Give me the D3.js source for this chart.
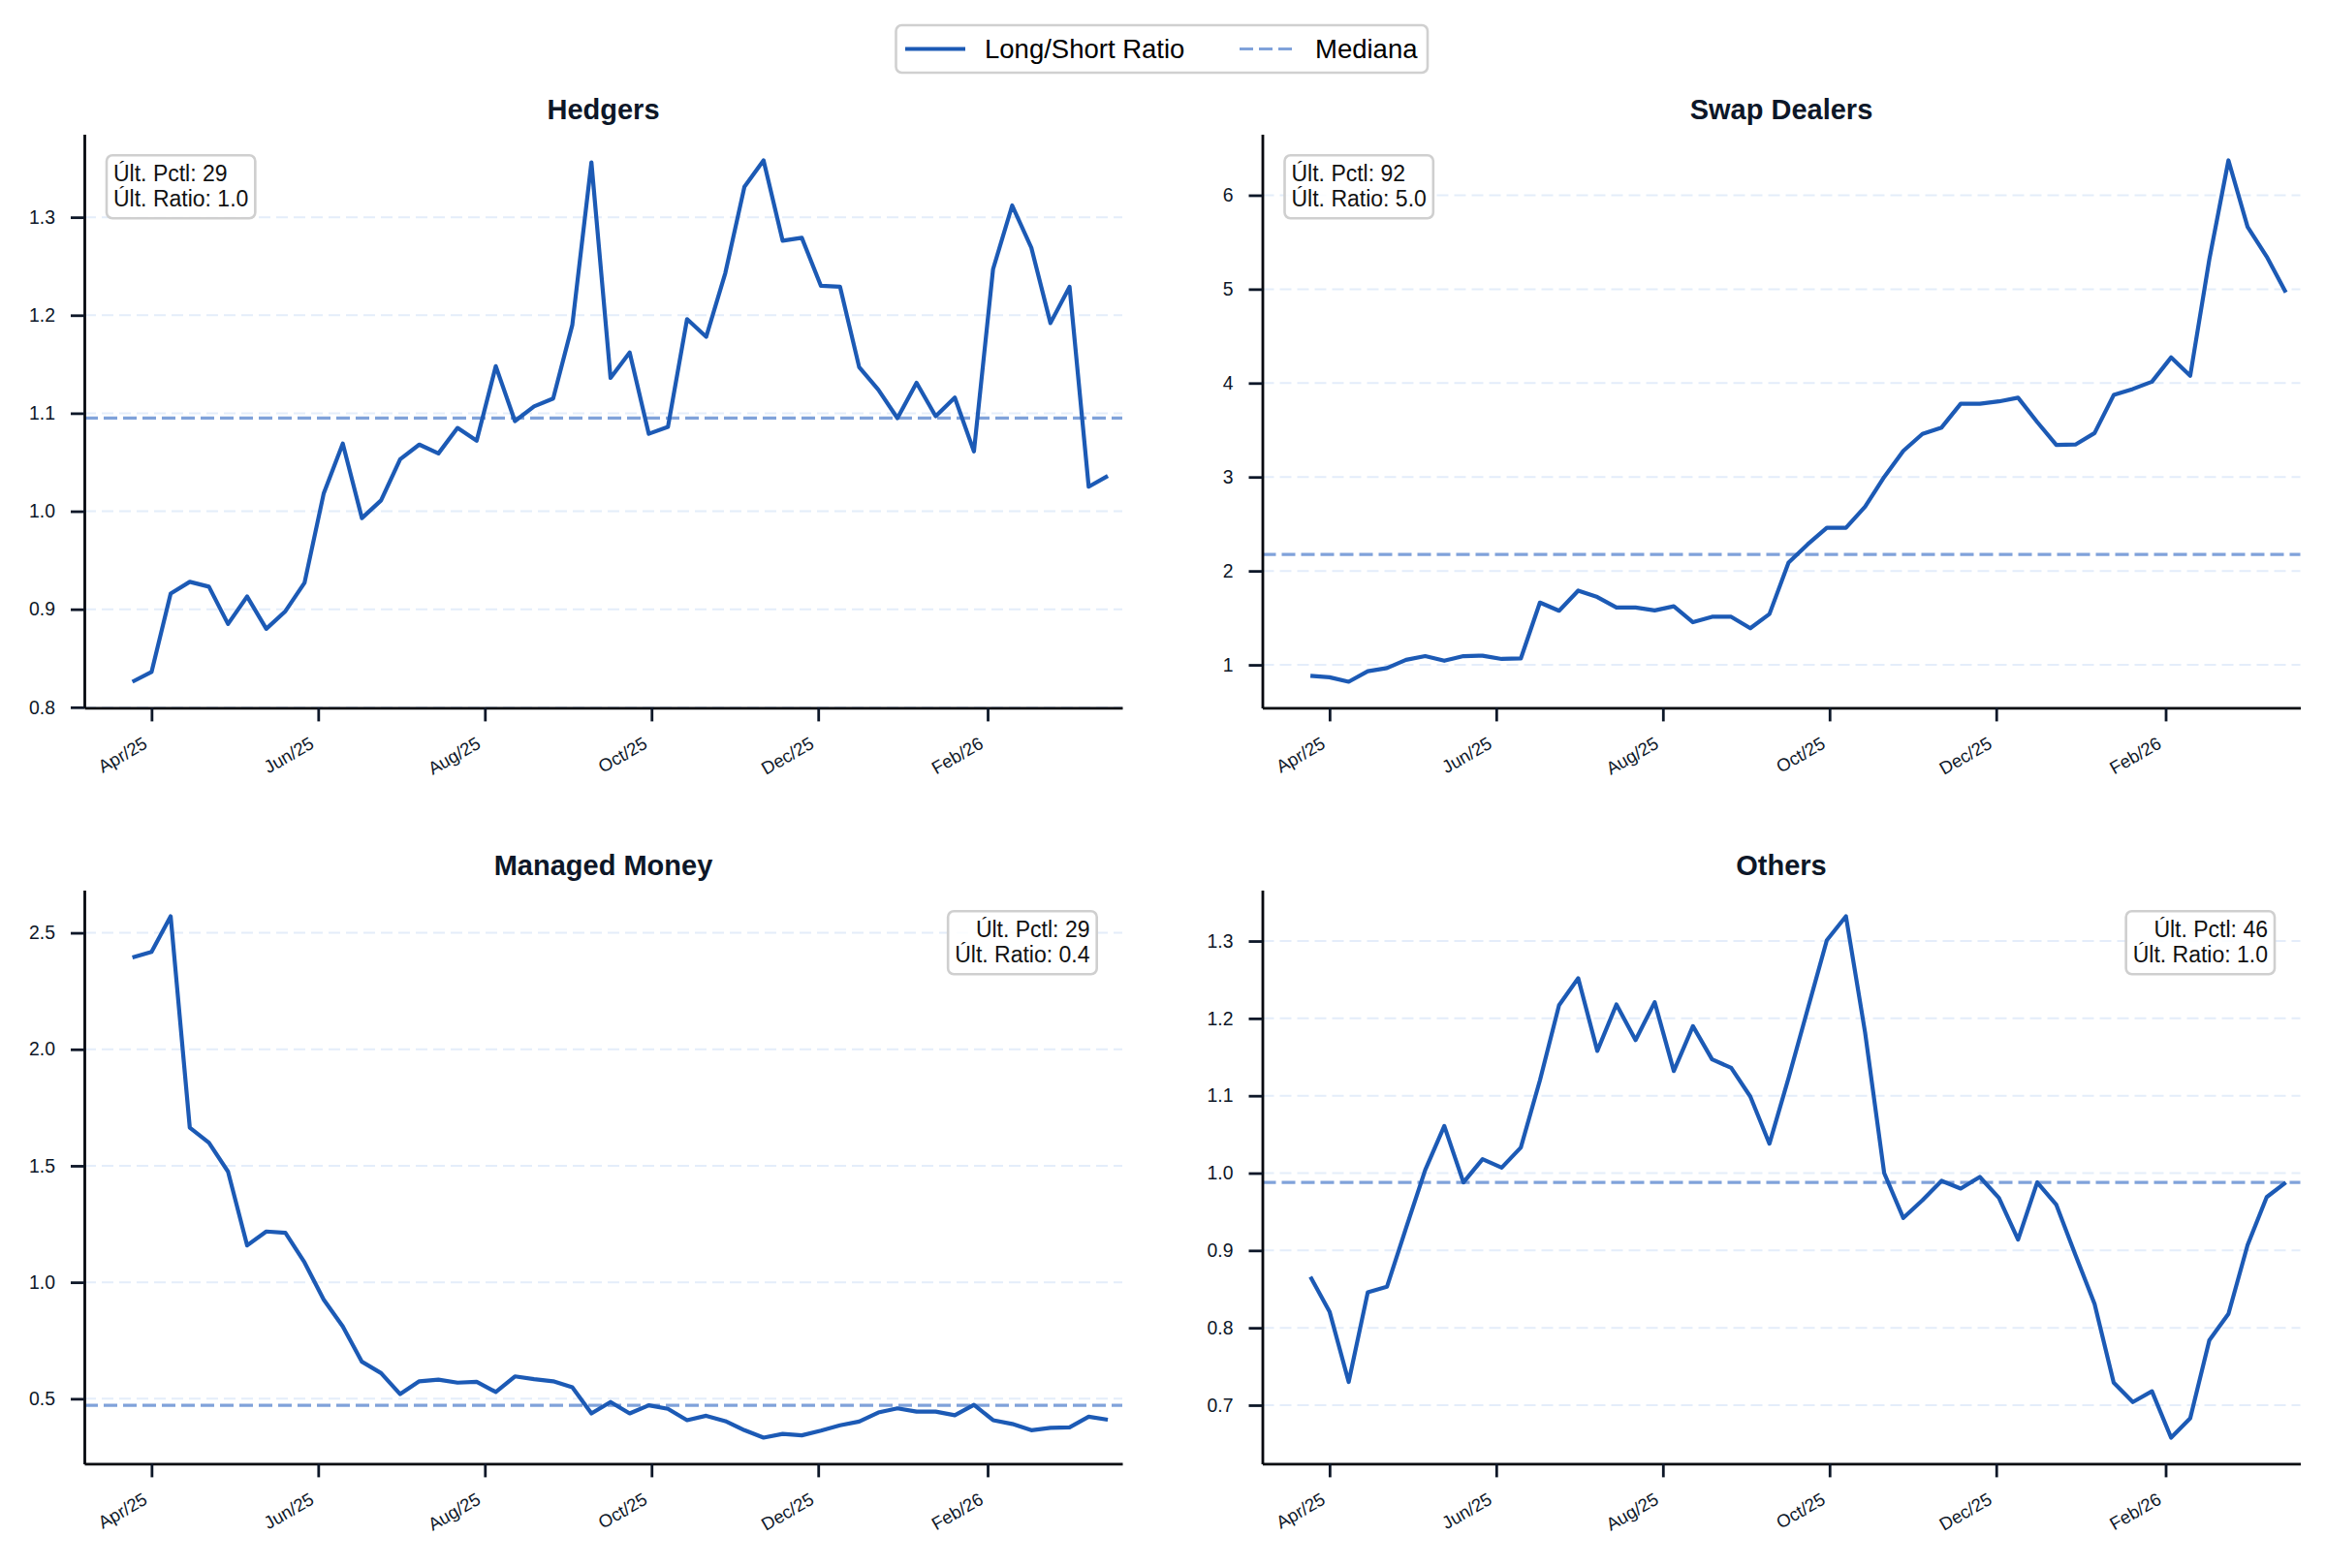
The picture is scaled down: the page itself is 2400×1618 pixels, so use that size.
<!DOCTYPE html>
<meta charset="utf-8">
<head>
<style>
    body { margin: 0; background: #ffffff; }
    svg text { font-family: 'Liberation Sans', Arial, Helvetica, sans-serif; }
</style>
</head>
<body>
<div id="chart"></div>

<script src="https://d3js.org/d3.v7.min.js"></script>
<script>
    // weekly report dates (Tuesdays)
    const dates = [
        '2025-03-25', '2025-04-01', '2025-04-08', '2025-04-15', '2025-04-22', '2025-04-29',
        '2025-05-06', '2025-05-13', '2025-05-20', '2025-05-27', '2025-06-03', '2025-06-10',
        '2025-06-17', '2025-06-24', '2025-07-01', '2025-07-08', '2025-07-15', '2025-07-22',
        '2025-07-29', '2025-08-05', '2025-08-12', '2025-08-19', '2025-08-26', '2025-09-02',
        '2025-09-09', '2025-09-16', '2025-09-23', '2025-09-30', '2025-10-07', '2025-10-14',
        '2025-10-21', '2025-10-28', '2025-11-04', '2025-11-11', '2025-11-18', '2025-11-25',
        '2025-12-02', '2025-12-09', '2025-12-16', '2025-12-23', '2025-12-30', '2026-01-06',
        '2026-01-13', '2026-01-20', '2026-01-27', '2026-02-03', '2026-02-10', '2026-02-17',
        '2026-02-24', '2026-03-03', '2026-03-10', '2026-03-17'
    ];

    // long/short ratio per group
    const hedgers = [
        0.826, 0.836, 0.916, 0.928, 0.923, 0.885, 0.913, 0.880, 0.898, 0.927,
        1.018, 1.069, 0.993, 1.011, 1.053, 1.068, 1.059, 1.085, 1.072, 1.148,
        1.092, 1.107, 1.115, 1.190, 1.356, 1.136, 1.162, 1.079, 1.086, 1.196,
        1.178, 1.243, 1.331, 1.358, 1.276, 1.279, 1.230, 1.229, 1.147, 1.124,
        1.095, 1.131, 1.097, 1.116, 1.061, 1.247, 1.312, 1.269, 1.192, 1.229,
        1.025, 1.036
    ];
    const swapDealers = [
        0.883, 0.868, 0.820, 0.932, 0.966, 1.054, 1.093, 1.044, 1.093, 1.098,
        1.063, 1.068, 1.663, 1.576, 1.790, 1.722, 1.610, 1.610, 1.580, 1.624,
        1.454, 1.512, 1.512, 1.390, 1.541, 2.088, 2.283, 2.459, 2.459, 2.683,
        3.000, 3.278, 3.459, 3.527, 3.780, 3.780, 3.805, 3.844, 3.585, 3.341,
        3.346, 3.468, 3.873, 3.937, 4.015, 4.273, 4.078, 5.317, 6.371, 5.663,
        5.346, 4.966
    ];
    const managedMoney = [
        2.394, 2.418, 2.571, 1.664, 1.599, 1.475, 1.158, 1.218, 1.212, 1.085,
        0.926, 0.810, 0.659, 0.610, 0.520, 0.575, 0.582, 0.569, 0.573, 0.529,
        0.596, 0.584, 0.575, 0.549, 0.437, 0.486, 0.437, 0.472, 0.457, 0.408,
        0.427, 0.404, 0.365, 0.333, 0.349, 0.343, 0.363, 0.386, 0.402, 0.441,
        0.459, 0.445, 0.445, 0.429, 0.474, 0.408, 0.392, 0.365, 0.375, 0.377,
        0.423, 0.410
    ];
    const others = [
        0.866, 0.821, 0.730, 0.846, 0.853, 0.929, 1.004, 1.061, 0.988, 1.018,
        1.007, 1.033, 1.120, 1.217, 1.252, 1.158, 1.218, 1.172, 1.221, 1.132,
        1.190, 1.147, 1.136, 1.099, 1.038, 1.123, 1.212, 1.301, 1.332, 1.182,
        1.000, 0.942, 0.965, 0.990, 0.980, 0.995, 0.968, 0.914, 0.988, 0.959,
        0.894, 0.831, 0.729, 0.704, 0.718, 0.658, 0.683, 0.784, 0.818, 0.907,
        0.969, 0.988
    ];

    const panelTitles = ['Hedgers', 'Swap Dealers', 'Managed Money', 'Others'];
    const medians = [1.095, 2.176, 0.472, 0.988];
    const lastPctl = [29, 92, 29, 46];
    const lastRatio = [1.0, 5.0, 0.4, 1.0];
    const yTickValues = [
        [0.8, 0.9, 1.0, 1.1, 1.2, 1.3],
        [1, 2, 3, 4, 5, 6],
        [0.5, 1.0, 1.5, 2.0, 2.5],
        [0.7, 0.8, 0.9, 1.0, 1.1, 1.2, 1.3]
    ];
    const yTickFormats = ['.1f', 'd', '.1f', '.1f'];
    const xTickDates = ['2025-04-01', '2025-06-01', '2025-08-01', '2025-10-01', '2025-12-01', '2026-02-01'];
    const xTickLabels = ['Apr/25', 'Jun/25', 'Aug/25', 'Oct/25', 'Dec/25', 'Feb/26'];
    const boxSide = ['left', 'left', 'right', 'right'];

    // chart setting
    let svgWidth = 2400;
    let svgHeight = 1618;
    let panelLeft = [87, 1302.5];
    let panelTop = [138.6, 918.6];
    let pw = 1071;
    let ph = 591.8;

    let lineColor = '#1c5ab5';
    let medianColor = '#80a2da';
    let inkColor = '#0d1728';

    let parseDate = d3.utcParse('%Y-%m-%d');
    let series = [hedgers, swapDealers, managedMoney, others];
    let dayMs = 864e5;
    let firstDate = parseDate(dates[0]);
    let lastDate = parseDate(dates[dates.length - 1]);

    let svg = d3.select('#chart')
        .append('svg')
        .attr('width', svgWidth)
        .attr('height', svgHeight)
        .style('background', '#ffffff');

    // shared x scale (same dates in every panel)
    let x = d3.scaleUtc()
        .domain([new Date(firstDate.getTime() - 17.6 * dayMs), new Date(lastDate.getTime() + 5.3 * dayMs)])
        .range([0, pw]);

    series.forEach((values, i) => {
        let col = i % 2;
        let row = Math.floor(i / 2);
        let g = svg.append('g')
            .attr('transform', `translate(${panelLeft[col]}, ${panelTop[row]})`);

        let ext = d3.extent(values);
        let pad = (ext[1] - ext[0]) * 0.05;
        let y = d3.scaleLinear()
            .domain([ext[0] - pad, ext[1] + pad])
            .range([ph, 0]);

        let pts = values.map((v, k) => ({ date: parseDate(dates[k]), value: v }));

        // grid
        g.selectAll('.grid')
            .data(yTickValues[i])
            .enter()
            .append('line')
            .attr('x1', 0)
            .attr('x2', pw)
            .attr('y1', d => y(d))
            .attr('y2', d => y(d))
            .attr('stroke', '#e4edfa')
            .attr('stroke-width', 2)
            .attr('stroke-dasharray', '12,6');

        // median
        g.append('line')
            .attr('x1', 0)
            .attr('x2', pw)
            .attr('y1', y(medians[i]))
            .attr('y2', y(medians[i]))
            .attr('stroke', medianColor)
            .attr('stroke-width', 3.2)
            .attr('stroke-dasharray', '14,6');

        // ratio line
        g.append('path')
            .datum(pts)
            .attr('fill', 'none')
            .attr('stroke', lineColor)
            .attr('stroke-width', 4.2)
            .attr('stroke-linejoin', 'round')
            .attr('d', d3.line().x(d => x(d.date)).y(d => y(d.value)));

        // axes
        let yAxis = g.append('g')
            .call(d3.axisLeft(y)
                .tickValues(yTickValues[i])
                .tickFormat(d3.format(yTickFormats[i]))
                .tickSize(14)
                .tickSizeOuter(0)
                .tickPadding(16));
        yAxis.selectAll('text')
            .style('font-size', '19.4px')
            .attr('fill', inkColor);

        let xAxis = g.append('g')
            .attr('transform', `translate(0, ${ph})`)
            .call(d3.axisBottom(x)
                .tickValues(xTickDates.map(parseDate))
                .tickFormat((d, k) => xTickLabels[k])
                .tickSize(14)
                .tickSizeOuter(0));
        xAxis.selectAll('text')
            .attr('y', null)
            .attr('dy', null)
            .attr('text-anchor', 'end')
            .attr('transform', 'translate(-3.6, 40.4) rotate(-30)')
            .style('font-size', '18.5px')
            .attr('fill', inkColor);

        [yAxis, xAxis].forEach(a => {
            a.select('.domain').attr('stroke', '#05080f').attr('stroke-width', 2.8);
            a.selectAll('.tick line').attr('stroke', inkColor).attr('stroke-width', 2.8);
        });

        // title
        g.append('text')
            .attr('x', pw / 2)
            .attr('y', -16)
            .attr('text-anchor', 'middle')
            .style('font-size', '29px')
            .style('font-weight', 'bold')
            .attr('fill', inkColor)
            .text(panelTitles[i]);

        // last value box
        let right = boxSide[i] === 'right';
        let note = g.append('text')
            .attr('text-anchor', right ? 'end' : 'start')
            .style('font-size', '23px')
            .attr('fill', '#111111');
        let tx = right ? pw - 33.5 : 30;
        note.append('tspan').attr('x', tx).attr('y', 48.1).text('Últ. Pctl: ' + lastPctl[i]);
        note.append('tspan').attr('x', tx).attr('y', 74.7).text('Últ. Ratio: ' + lastRatio[i].toFixed(1));
        let bb = note.node().getBBox();
        g.insert('rect', () => note.node())
            .attr('x', bb.x - 7)
            .attr('y', bb.y - 5.5)
            .attr('width', bb.width + 14)
            .attr('height', bb.height + 12.5)
            .attr('rx', 6)
            .attr('fill', '#ffffff')
            .attr('fill-opacity', 0.85)
            .attr('stroke', '#cfcfcf')
            .attr('stroke-width', 2.6);
    });

    // legend
    let legend = svg.append('g');
    legend.append('rect')
        .attr('x', 924.5)
        .attr('y', 26)
        .attr('width', 548.5)
        .attr('height', 49)
        .attr('rx', 6)
        .attr('fill', '#ffffff')
        .attr('stroke', '#d0d0d0')
        .attr('stroke-width', 2.6);
    legend.append('line')
        .attr('x1', 934).attr('x2', 996)
        .attr('y1', 50.5).attr('y2', 50.5)
        .attr('stroke', lineColor)
        .attr('stroke-width', 4.2);
    legend.append('text')
        .attr('x', 1016).attr('y', 50.5)
        .attr('dominant-baseline', 'central')
        .style('font-size', '27.5px')
        .attr('fill', '#000000')
        .text('Long/Short Ratio');
    legend.append('line')
        .attr('x1', 1279).attr('x2', 1335)
        .attr('y1', 50.5).attr('y2', 50.5)
        .attr('stroke', medianColor)
        .attr('stroke-width', 3.2)
        .attr('stroke-dasharray', '14,6');
    legend.append('text')
        .attr('x', 1357).attr('y', 50.5)
        .attr('dominant-baseline', 'central')
        .style('font-size', '27.5px')
        .attr('fill', '#000000')
        .text('Mediana');
</script>
</body>
